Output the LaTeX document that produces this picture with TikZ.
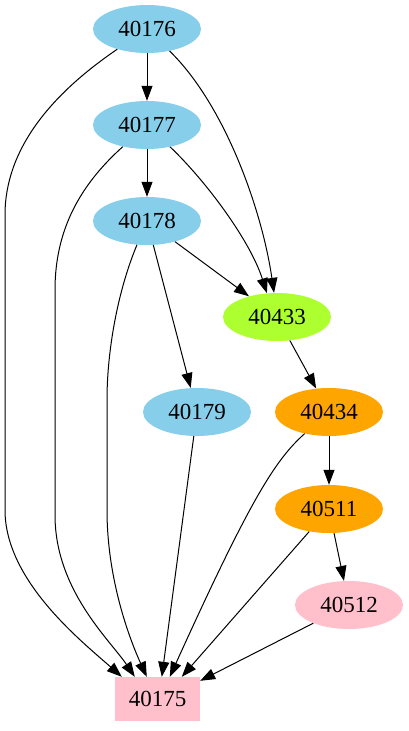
\documentclass[tikz,border=0pt]{standalone}
\usepackage{fontspec}
\setmainfont{Liberation Serif}
\usetikzlibrary{arrows.meta,shapes.geometric}
\definecolor{cblue}{HTML}{87CEEB}
\definecolor{cgreen}{HTML}{ADFF2F}
\definecolor{corange}{HTML}{FFA500}
\definecolor{cpink}{HTML}{FFC0CB}
\begin{document}
\begin{tikzpicture}[x=1pt,y=-1pt,
  el/.style={ellipse, minimum width=108pt, minimum height=48pt, inner sep=0pt, font=\fontsize{23}{27}\selectfont},
  bx/.style={rectangle, minimum width=85pt, minimum height=44pt, inner sep=0pt, font=\fontsize{23}{27}\selectfont},
  arr/.style={-{Triangle[length=15pt,width=11pt]}, line width=1pt}]
\useasboundingbox (0,0) rectangle (408,731);
\node[el, fill=cblue] (n176) at (147,29) {40176};
\node[el, fill=cblue] (n177) at (147,125) {40177};
\node[el, fill=cblue] (n178) at (147,221) {40178};
\node[el, fill=cgreen] (n433) at (277,317) {40433};
\node[el, fill=cblue] (n179) at (197,412) {40179};
\node[el, fill=corange] (n434) at (329,412) {40434};
\node[el, fill=corange] (n511) at (329,509) {40511};
\node[el, fill=cpink] (n512) at (349,605) {40512};
\node[bx, fill=cpink] (n175) at (157.5,699) {40175};

\draw[arr] (n176) -- (n177);
\draw[arr] (n177) -- (n178);
\draw[arr] (n176) .. controls (225,105) and (262,210) .. (n433.97);
\draw[arr] (n177) .. controls (205,180) and (250,240) .. (n433.113);
\draw[arr] (n178) -- (n433);
\draw[arr] (n178) -- (n179);
\draw[arr] (n433) -- (n434);
\draw[arr] (n434) -- (n511);
\draw[arr] (n511) -- (n512);
\draw[arr] (n176) .. controls (50,95) and (5,150) .. (5,215) -- (5,510) .. controls (5,580) and (80,640) .. ([xshift=7pt]n175.north west);
\draw[arr] (n177) .. controls (80,185) and (55,230) .. (55,290) -- (55,515) .. controls (55,590) and (110,640) .. ([xshift=20pt]n175.north west);
\draw[arr] (n178) .. controls (118,290) and (107,350) .. (107,400) -- (107,510) .. controls (107,580) and (130,640) .. ([xshift=32pt]n175.north west);
\draw[arr] (n179) -- ([xshift=47pt]n175.north west);
\draw[arr] (n434) .. controls (275,460) and (250,500) .. ([xshift=55pt]n175.north west);
\draw[arr] (n511) -- ([xshift=67pt]n175.north west);
\draw[arr] (n512) -- ([yshift=-4pt]n175.north east);
\end{tikzpicture}
\end{document}
